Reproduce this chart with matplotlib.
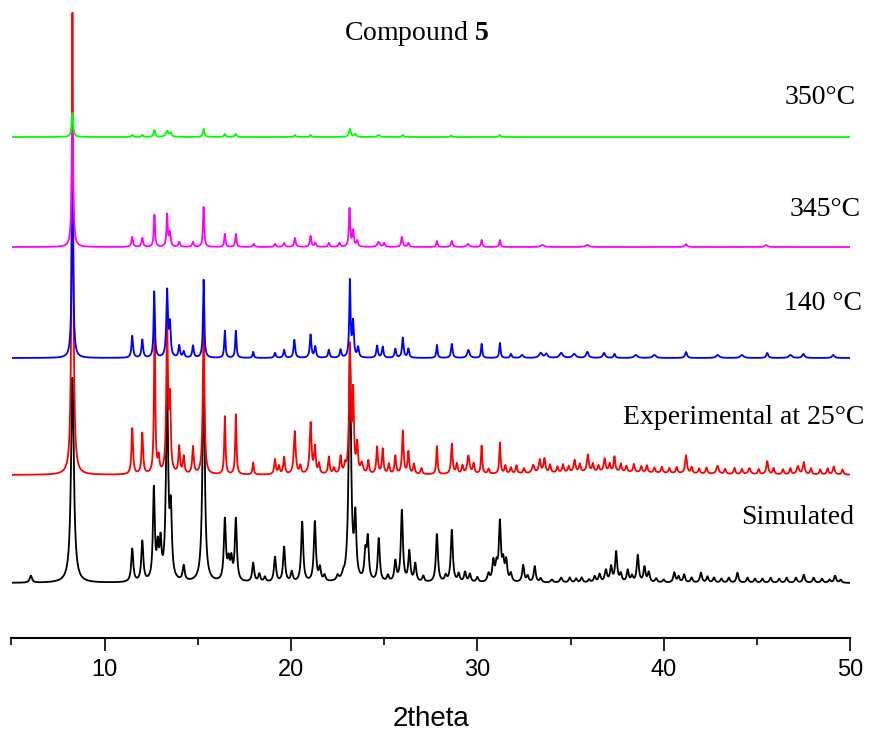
"""Stacked PXRD patterns of compound 5 (simulated, RT and after heating)."""

import numpy as np
import matplotlib
matplotlib.use("Agg")
import matplotlib.pyplot as plt

# peaks: (2theta, height, fwhm); heights in screen-pixel units
sim_peaks = [
    (6.04, 7, 0.15), (8.27, 205, 0.18), (11.48, 33, 0.13), (12.02, 40, 0.13),
    (12.64, 91, 0.12), (12.85, 30, 0.12), (13.0, 35, 0.12), (13.35, 190, 0.14),
    (13.55, 65, 0.13), (14.24, 15, 0.13), (15.31, 210, 0.15), (16.45, 61, 0.13),
    (16.65, 18, 0.13), (16.8, 20, 0.13), (17.04, 62, 0.13), (17.97, 19, 0.13),
    (18.3, 8, 0.13), (18.6, 5, 0.13), (19.14, 25, 0.13), (19.63, 35, 0.13),
    (20.04, 10, 0.13), (20.6, 60, 0.13), (21.28, 60, 0.13), (21.55, 13, 0.13),
    (21.8, 6, 0.13), (22.5, 5, 0.13), (22.8, 4, 0.13), (23.16, 230, 0.15),
    (23.45, 60, 0.13), (23.99, 26, 0.13), (24.12, 41, 0.13), (24.71, 43, 0.13),
    (25.2, 6, 0.13), (25.6, 20, 0.13), (25.95, 71, 0.13), (26.35, 30, 0.13),
    (26.67, 18, 0.13), (27.1, 6, 0.13), (27.83, 48, 0.13), (28.3, 6, 0.13),
    (28.63, 52, 0.13), (29.0, 8, 0.13), (29.34, 10, 0.13), (29.6, 8, 0.13),
    (30.0, 5, 0.13), (30.6, 8, 0.15), (30.86, 20, 0.13), (31.03, 15, 0.13),
    (31.21, 58, 0.13), (31.39, 18, 0.13), (31.55, 20, 0.13), (31.8, 8, 0.13),
    (32.46, 17, 0.13), (32.7, 6, 0.13), (33.08, 16, 0.13), (33.4, 4, 0.13),
    (34.0, 3, 0.15), (34.5, 5, 0.15), (34.96, 5, 0.13), (35.3, 4, 0.13),
    (35.6, 5, 0.13), (36.0, 3, 0.13), (36.3, 6, 0.13), (36.56, 8, 0.13),
    (36.9, 12, 0.15), (37.18, 15, 0.13), (37.45, 30, 0.13), (37.7, 8, 0.13),
    (38.07, 12, 0.13), (38.3, 6, 0.13), (38.61, 27, 0.13), (38.97, 15, 0.13),
    (39.2, 10, 0.13), (39.6, 4, 0.13), (40.0, 3, 0.13), (40.57, 10, 0.13),
    (40.8, 6, 0.13), (41.1, 8, 0.13), (41.5, 5, 0.13), (42.0, 10, 0.13),
    (42.35, 6, 0.13), (42.7, 5, 0.13), (43.1, 4, 0.13), (43.5, 5, 0.13),
    (43.96, 10, 0.13), (44.5, 5, 0.13), (44.9, 4, 0.13), (45.3, 4, 0.13),
    (45.74, 5, 0.13), (46.2, 4, 0.13), (46.6, 5, 0.13), (47.1, 5, 0.13),
    (47.52, 8, 0.13), (48.05, 5, 0.13), (48.5, 4, 0.13), (48.9, 3, 0.13),
    (49.2, 7, 0.13), (49.5, 3, 0.13),
]

exp25_peaks = [
    (8.27, 462, 0.1), (11.48, 46, 0.1), (12.02, 41, 0.1), (12.68, 150, 0.08),
    (12.9, 15, 0.1), (13.35, 150, 0.1), (13.5, 70, 0.1), (14.0, 27, 0.1),
    (14.24, 17, 0.1), (14.74, 27, 0.1), (15.31, 155, 0.1), (16.45, 58, 0.08),
    (17.04, 60, 0.08), (17.97, 12, 0.08), (19.14, 15, 0.1), (19.35, 8, 0.1),
    (19.63, 17, 0.1), (20.2, 43, 0.12), (20.5, 8, 0.1), (21.05, 51, 0.12),
    (21.28, 26, 0.1), (21.5, 10, 0.1), (22.03, 17, 0.1), (22.3, 6, 0.1),
    (22.66, 17, 0.1), (22.9, 8, 0.1), (23.16, 125, 0.1), (23.33, 78, 0.1),
    (23.55, 28, 0.1), (23.8, 10, 0.15), (24.15, 13, 0.1), (24.62, 27, 0.1),
    (24.92, 25, 0.1), (25.25, 10, 0.1), (25.6, 18, 0.1), (26.0, 43, 0.1),
    (26.3, 22, 0.1), (26.6, 10, 0.1), (27.0, 6, 0.1), (27.83, 28, 0.08),
    (28.63, 30, 0.1), (28.9, 10, 0.1), (29.2, 8, 0.1), (29.52, 18, 0.15),
    (29.8, 10, 0.1), (30.23, 28, 0.08), (30.6, 5, 0.1), (31.21, 31, 0.08),
    (31.5, 8, 0.1), (31.8, 6, 0.1), (32.1, 8, 0.1), (32.5, 5, 0.1),
    (33.0, 8, 0.15), (33.35, 13, 0.12), (33.6, 14, 0.12), (33.9, 8, 0.1),
    (34.3, 6, 0.1), (34.6, 8, 0.1), (34.9, 6, 0.1), (35.22, 12, 0.12),
    (35.5, 8, 0.1), (35.93, 17, 0.12), (36.2, 8, 0.1), (36.5, 6, 0.1),
    (36.83, 13, 0.12), (37.1, 8, 0.1), (37.36, 15, 0.1), (37.7, 8, 0.1),
    (38.0, 6, 0.1), (38.4, 8, 0.1), (38.8, 6, 0.1), (39.1, 7, 0.1),
    (39.5, 5, 0.1), (39.9, 6, 0.1), (40.3, 5, 0.1), (40.7, 6, 0.1),
    (41.2, 18, 0.12), (41.5, 6, 0.1), (41.9, 5, 0.1), (42.3, 6, 0.1),
    (42.89, 8, 0.15), (43.3, 5, 0.1), (43.8, 6, 0.1), (44.2, 5, 0.1),
    (44.6, 6, 0.15), (45.1, 5, 0.1), (45.56, 13, 0.12), (45.9, 6, 0.1),
    (46.4, 5, 0.1), (46.8, 6, 0.1), (47.2, 8, 0.15), (47.52, 12, 0.12),
    (47.9, 6, 0.1), (48.4, 5, 0.1), (48.8, 6, 0.1), (49.13, 8, 0.12),
    (49.6, 5, 0.1), (37.0, 3, 8.0),
]

t140_peaks = [
    (8.27, 170, 0.1), (11.48, 22, 0.1), (12.02, 18, 0.1), (12.66, 66, 0.08),
    (13.35, 66, 0.1), (13.5, 32, 0.1), (14.0, 12, 0.1), (14.24, 6, 0.1),
    (14.74, 12, 0.1), (15.31, 78, 0.08), (16.45, 27, 0.08), (17.04, 27, 0.08),
    (17.97, 6, 0.08), (19.14, 5, 0.1), (19.63, 8, 0.1), (20.18, 18, 0.1),
    (21.05, 23, 0.1), (21.3, 11, 0.1), (22.03, 8, 0.1), (22.66, 8, 0.1),
    (23.16, 76, 0.08), (23.33, 35, 0.1), (23.6, 10, 0.1), (24.62, 12, 0.1),
    (24.92, 11, 0.1), (25.6, 9, 0.1), (26.0, 20, 0.1), (26.3, 9, 0.1),
    (27.83, 13, 0.08), (28.63, 14, 0.1), (29.52, 8, 0.15), (30.23, 14, 0.08),
    (31.21, 15, 0.08), (31.8, 4, 0.1), (32.4, 3, 0.15), (33.4, 5, 0.2),
    (33.7, 4, 0.15), (34.5, 5, 0.2), (35.2, 4, 0.2), (35.9, 6, 0.15),
    (36.8, 5, 0.15), (37.36, 4, 0.1), (38.5, 3, 0.2), (39.5, 3, 0.2),
    (41.2, 6, 0.12), (42.9, 3, 0.2), (44.2, 3, 0.2), (45.56, 5, 0.12),
    (46.8, 3, 0.2), (47.5, 4, 0.15), (49.1, 3, 0.15),
]

t345_peaks = [
    (8.27, 125, 0.1), (11.48, 10, 0.1), (12.02, 9, 0.1), (12.67, 32, 0.08),
    (13.35, 32, 0.08), (13.5, 14, 0.1), (14.0, 5, 0.1), (14.74, 5, 0.1),
    (15.31, 40, 0.08), (16.45, 13, 0.08), (17.04, 13, 0.08), (18.0, 3, 0.1),
    (19.14, 3, 0.1), (19.63, 4, 0.1), (20.21, 9, 0.1), (21.05, 11, 0.1),
    (21.3, 4, 0.1), (22.03, 4, 0.1), (22.6, 4, 0.1), (23.14, 38, 0.08),
    (23.33, 16, 0.1), (23.55, 6, 0.1), (24.7, 5, 0.15), (25.0, 4, 0.1),
    (25.95, 10, 0.1), (26.3, 4, 0.1), (27.83, 6, 0.08), (28.63, 6, 0.1),
    (29.5, 3, 0.15), (30.23, 7, 0.08), (31.21, 7, 0.08), (33.5, 2, 0.2),
    (35.9, 2, 0.2), (41.2, 3, 0.12), (45.5, 2, 0.15),
]

t350_peaks = [
    (8.27, 24, 0.1), (11.48, 2, 0.1), (12.02, 2, 0.1), (12.67, 7, 0.1),
    (13.35, 6, 0.15), (13.55, 4, 0.12), (15.31, 8, 0.1), (16.45, 3, 0.1),
    (17.04, 3, 0.1), (20.21, 2, 0.1), (21.05, 2, 0.1), (23.16, 8, 0.12),
    (23.45, 3, 0.12), (24.7, 2, 0.15), (26.0, 2, 0.1), (28.6, 1.5, 0.1),
    (31.2, 2, 0.1),
]

# vertical offsets of the stacked patterns
offsets = [55, 163, 280, 391, 501]
colors = ["black", "red", "blue", "magenta", "#00ff00"]
labels = ["Simulated", "Experimental at 25°C", "140 °C", "345°C", "350°C"]
label_y = [121, 221, 335, 428, 541]
label_x = [50.2, 50.75, 50.65, 50.55, 50.3]

plt.rcParams["mathtext.fontset"] = "custom"
plt.rcParams["mathtext.rm"] = "Liberation Serif"
plt.rcParams["mathtext.bf"] = "Liberation Serif:bold"


def profile(x, peaks):
    y = np.zeros_like(x)
    for pos, h, w in peaks:
        y += h / (1.0 + ((x - pos) / (w / 2.0)) ** 2)
    return y


x = np.arange(5.0, 50.0001, 0.01)
patterns = [sim_peaks, exp25_peaks, t140_peaks, t345_peaks, t350_peaks]

fig = plt.figure(figsize=(8.69, 7.33), dpi=100)
ax = fig.add_axes([11.5 / 869, 95 / 733, 838.5 / 869, 638 / 733])

for i, (peaks, off, col) in enumerate(zip(patterns, offsets, colors)):
    ax.plot(x, profile(x, peaks) + off, color=col, lw=1.3, zorder=i + 1)

for txt, tx, ty in zip(labels, label_x, label_y):
    ax.text(tx, ty, txt, ha="right", va="center", fontsize=20,
            family="Liberation Serif", clip_on=False)
ax.text(26.75, 604, r"Compound $\mathbf{5}$", ha="center", va="center",
        fontsize=20, family="Liberation Serif")

ax.set_xlim(5, 50)
ax.set_ylim(0, 638)
for side in ("left", "right", "top"):
    ax.spines[side].set_visible(False)
ax.spines["bottom"].set_linewidth(1.5)
ax.set_yticks([])
ax.set_xticks([10, 20, 30, 40, 50])
ax.set_xticks([5, 15, 25, 35, 45], minor=True)
ax.tick_params(axis="x", which="major", direction="out", length=9, width=1.2,
               labelsize=17, pad=6)
ax.tick_params(axis="x", which="minor", direction="out", length=5, width=1.2)
for lab in ax.get_xticklabels():
    lab.set_family("Liberation Sans")
ax.set_xlabel("2theta", fontsize=20, family="Liberation Sans", labelpad=18)

fig.savefig("out.png", dpi=100)
plt.close(fig)
